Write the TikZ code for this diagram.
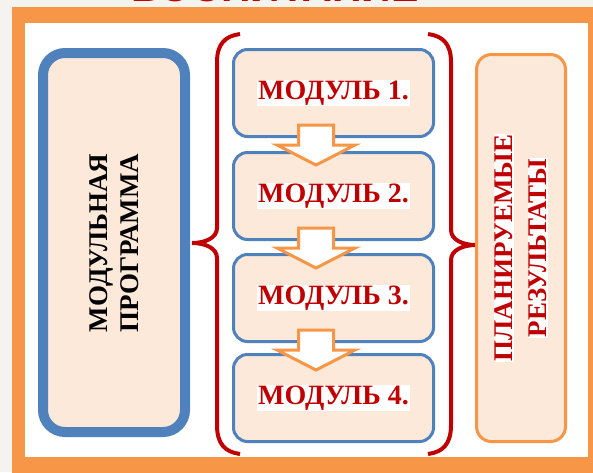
\documentclass[tikz,border=0pt]{standalone}
\usepackage{fontspec}
\setmainfont{Liberation Serif}
\newfontfamily\titlefont{Liberation Sans}
\definecolor{frameorange}{HTML}{F79646}
\definecolor{boxblue}{HTML}{4F81BD}
\definecolor{peach}{HTML}{FDE9D9}
\definecolor{darkred}{HTML}{C00000}
\definecolor{paper}{HTML}{F4F3EE}
\begin{document}
\begin{tikzpicture}[x=1pt, y=-1pt,
    modbox/.style={draw=boxblue, line width=3pt, fill=peach, rounded corners=14pt,
      minimum width=200pt, minimum height=87pt},
    modtext/.style={fill=white, inner sep=1pt, text=darkred,
      font=\fontsize{28}{30}\selectfont\bfseries},
    resline/.style={rotate=90, fill=white, inner sep=1pt, text=darkred,
      font=\fontsize{27}{30}\selectfont\bfseries},
    downarrow/.style={draw=frameorange, fill=white, line width=3pt, line join=miter},
    bracket/.style={draw=darkred, line width=4pt}]
        \clip (0, 0) rectangle (593, 472);
        \fill[paper] (0, 0) rectangle (593, 472);
        \fill[frameorange] (12, 7) rectangle (600, 480);
        \fill[white] (25, 23) rectangle (588, 457);
        \node[anchor=base, text=darkred, font=\titlefont\fontsize{41}{41}\selectfont\bfseries]
          (title) at (275, 1) {«ВОСПИТАНИЕ»};
        % left block
        \draw[draw=boxblue, line width=10pt, fill=peach, rounded corners=22pt]
          (43, 53) rectangle (185, 432);
        \node[rotate=90, align=center, font=\fontsize{27}{31}\selectfont\bfseries]
          (prog) at (114, 243) {МОДУЛЬНАЯ\\ПРОГРАММА};
        % modules
        \foreach \i/\y in {1/93, 2/196, 3/298, 4/398} {
          \node[modbox] (m\i) at (333.5, \y) {};
          \node[modtext] (t\i) at (m\i) {МОДУЛЬ \i.};
        }
        \foreach \i in {1, 2, 3}
          \draw[downarrow] ([xshift=-35pt, yshift=13pt]m\i.south) -- ++(35, 0) -- ++(0, 20)
            -- ++(21.5, 0) -- ++(-39, 20) -- ++(-39, -20) -- ++(21.5, 0) -- cycle;
        % braces
        \draw[bracket] (240, 34) .. controls (225, 36) and (217, 44) .. (217, 62) -- (217, 228)
          .. controls (217, 238) and (205, 243) .. (192, 243)
          .. controls (205, 243) and (217, 248) .. (217, 258) -- (217, 425)
          .. controls (217, 444) and (225, 452) .. (240, 454);
        \draw[bracket] (428, 34) .. controls (443, 36) and (451, 44) .. (451, 62) -- (451, 230)
          .. controls (451, 240) and (463, 245) .. (476, 245)
          .. controls (463, 245) and (451, 250) .. (451, 260) -- (451, 425)
          .. controls (451, 444) and (443, 452) .. (428, 454);
        % results
        \draw[draw=frameorange, line width=3pt, fill=peach, rounded corners=15pt]
          (476.5, 54.5) rectangle (565.5, 441.5);
        \node[resline] (r1) at (504, 248) {ПЛАНИРУЕМЫЕ};
        \node[resline] (r2) at (538, 248) {РЕЗУЛЬТАТЫ};
\end{tikzpicture}
\end{document}
